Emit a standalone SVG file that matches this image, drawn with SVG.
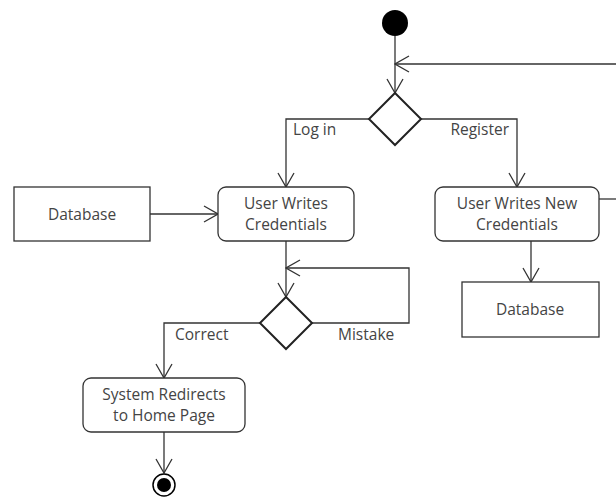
<svg xmlns="http://www.w3.org/2000/svg" width="616" height="497" viewBox="0 0 616 497">
  <style>
    .box { fill: #ffffff; stroke: #333333; stroke-width: 1.3; }
    .dec { fill: #ffffff; stroke: #222222; stroke-width: 2; }
    .edge { fill: none; stroke: #333333; stroke-width: 1.3; }
    .lbl { font-family: "Open Sans", "Noto Sans", sans-serif; font-size: 15.5px; fill: #444444; }
    .mid { text-anchor: middle; }
  </style>
  <defs>
    <marker id="open" viewBox="0 0 16 18" refX="15" refY="9" markerWidth="16" markerHeight="18" markerUnits="userSpaceOnUse" orient="auto">
      <path d="M1,1 L15,9 L1,17" fill="none" stroke="#333333" stroke-width="1.3"/>
    </marker>
  </defs>

  <g id="connectors">
    <!-- start to first decision -->
    <path class="edge" d="M395,36 L395,93" marker-end="url(#open)"/>
    <!-- loop back from registration -->
    <path class="edge" d="M599,199 L616,199"/>
    <path class="edge" d="M616,64 L395,64" marker-end="url(#open)"/>
    <!-- log in branch -->
    <path class="edge" d="M369,119 L286,119 L286,187" marker-end="url(#open)"/>
    <!-- register branch -->
    <path class="edge" d="M421,119 L517,119 L517,187" marker-end="url(#open)"/>
    <!-- database to credentials -->
    <path class="edge" d="M150,214 L218,214" marker-end="url(#open)"/>
    <!-- new credentials to database -->
    <path class="edge" d="M531,241 L531,282" marker-end="url(#open)"/>
    <!-- credentials to check -->
    <path class="edge" d="M286,241 L286,297" marker-end="url(#open)"/>
    <!-- mistake loop -->
    <path class="edge" d="M312,323 L409,323 L409,268 L286,268" marker-end="url(#open)"/>
    <!-- correct branch -->
    <path class="edge" d="M260,323 L164,323 L164,378" marker-end="url(#open)"/>
    <!-- redirect to end -->
    <path class="edge" d="M164,432 L164,473" marker-end="url(#open)"/>

    <text class="lbl" x="293" y="135">Log in</text>
    <text class="lbl" x="509" y="135" text-anchor="end">Register</text>
    <text class="lbl" x="175" y="340">Correct</text>
    <text class="lbl" x="338" y="340">Mistake</text>
  </g>

  <g id="start">
    <circle cx="395" cy="23" r="13" fill="#000000"/>
  </g>

  <g id="choice">
    <polygon class="dec" points="395,93 421,119 395,145 369,119"/>
  </g>

  <g id="db-login">
    <rect class="box" x="14" y="187" width="136" height="54"/>
    <text class="lbl mid" x="82" y="220">Database</text>
  </g>

  <g id="write-credentials">
    <rect class="box" x="218" y="187" width="136" height="54" rx="8"/>
    <text class="lbl mid" x="286" y="208.5">User Writes</text>
    <text class="lbl mid" x="286" y="230">Credentials</text>
  </g>

  <g id="write-new-credentials">
    <rect class="box" x="435" y="187" width="164" height="54" rx="8"/>
    <text class="lbl mid" x="517" y="208.5">User Writes New</text>
    <text class="lbl mid" x="517" y="230">Credentials</text>
  </g>

  <g id="db-register">
    <rect class="box" x="462" y="282" width="137" height="55"/>
    <text class="lbl mid" x="530" y="315">Database</text>
  </g>

  <g id="check">
    <polygon class="dec" points="286,297 312,323 286,349 260,323"/>
  </g>

  <g id="redirect">
    <rect class="box" x="83" y="378" width="162" height="54" rx="8"/>
    <text class="lbl mid" x="164" y="399.5">System Redirects</text>
    <text class="lbl mid" x="164" y="421">to Home Page</text>
  </g>

  <g id="end">
    <circle cx="164" cy="485" r="11" fill="#ffffff" stroke="#000000" stroke-width="1.5"/>
    <circle cx="164" cy="485" r="7" fill="#000000"/>
  </g>
</svg>
